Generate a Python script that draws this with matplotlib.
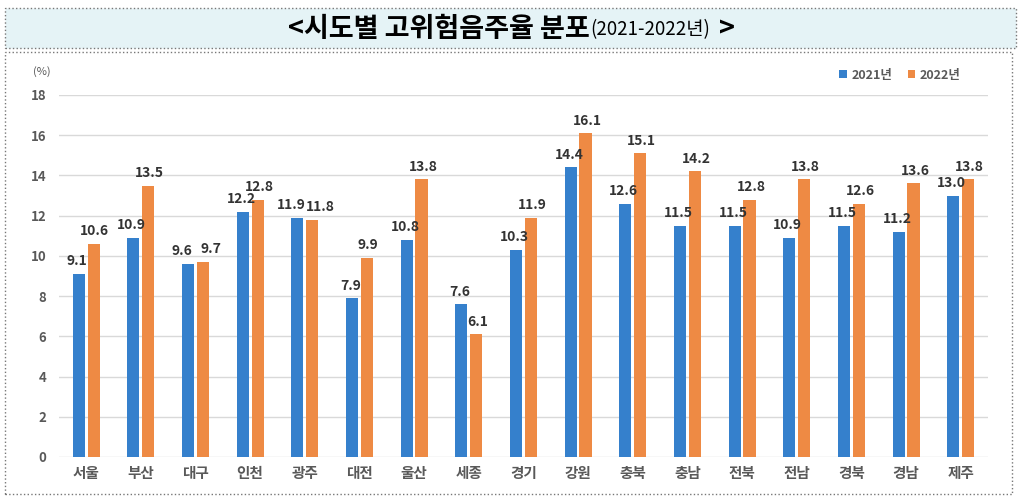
import numpy as np
import matplotlib.pyplot as plt
from matplotlib.patches import Rectangle

plt.rcParams['font.family'] = ['Noto Sans CJK KR', 'DejaVu Sans']

regions = ["서울", "부산", "대구", "인천", "광주", "대전", "울산", "세종", "경기",
           "강원", "충북", "충남", "전북", "전남", "경북", "경남", "제주"]
rate_2021 = [9.1, 10.9, 9.6, 12.2, 11.9, 7.9, 10.8, 7.6, 10.3,
             14.4, 12.6, 11.5, 11.5, 10.9, 11.5, 11.2, 13.0]
rate_2022 = [10.6, 13.5, 9.7, 12.8, 11.8, 9.9, 13.8, 6.1, 11.9,
             16.1, 15.1, 14.2, 12.8, 13.8, 12.6, 13.6, 13.8]
series_names = ["2021년", "2022년"]
y_ticks = [0, 2, 4, 6, 8, 10, 12, 14, 16, 18]

blue = "#3580cc"
orange = "#ee8a44"
gray = "#595959"

W, H = 1024, 497
fig = plt.figure(figsize=(W / 100, H / 100), dpi=100)

# title band and chart frame (pixel coords -> figure fraction)
def px_rect(x0, y0, x1, y1, **kw):
    return Rectangle((x0 / W, 1 - y1 / H), (x1 - x0) / W, (y1 - y0) / H,
                     transform=fig.transFigure, zorder=-5, **kw)

fig.patches.append(px_rect(5, 8, 1016, 48, facecolor="#e5f3f6",
                           edgecolor="#777777", linestyle=":", linewidth=1))
fig.patches.append(px_rect(5, 52, 1012, 494, facecolor="none",
                           edgecolor="#777777", linestyle=":", linewidth=1))

fig.text(590 / W, 1 - 29 / H, "<시도별 고위험음주율 분포", ha="right", va="center",
         fontsize=19.5, fontweight="bold", color="black")
fig.text(590 / W, 1 - 30 / H, "(2021-2022년)", ha="left", va="center",
         fontsize=13.5, color="black")
fig.text(719 / W, 1 - 29 / H, ">", ha="left", va="center",
         fontsize=19.5, fontweight="bold", color="black")

ax = fig.add_axes([58.7 / W, 1 - 457 / H, (988 - 58.7) / W, (457 - 95) / H])
ax.set_facecolor("none")

x = np.arange(len(regions))
w = 0.22
off = 0.137
b1 = ax.bar(x - off, rate_2021, w, color=blue, label=series_names[0], zorder=3)
b2 = ax.bar(x + off, rate_2022, w, color=orange, label=series_names[1], zorder=3)

# value labels; nudge apart when the two bars are nearly the same height
for i, (r1, r2) in enumerate(zip(b1, b2)):
    v1, v2 = rate_2021[i], rate_2022[i]
    close = abs(v1 - v2) < 0.6
    for r, v, dx in ((r1, v1, -4 if close else -1), (r2, v2, 6 if close else 1)):
        ax.annotate(f"{v:.1f}", (r.get_x() + r.get_width() / 2, v),
                    xytext=(dx, 4), textcoords="offset points",
                    ha="center", va="bottom", fontsize=10, fontweight="bold",
                    color="#333333", zorder=4)

ax.set_xlim(-0.5, len(regions) - 0.5)
ax.set_ylim(0, 18)
ax.set_yticks(y_ticks)
ax.set_xticks(x)
ax.set_xticklabels(regions, fontsize=10.5, fontweight="bold", color=gray)
ax.tick_params(axis="y", length=0, pad=9, labelsize=9.5, labelcolor=gray)
ax.tick_params(axis="x", length=0, pad=6)
for lab in ax.get_yticklabels():
    lab.set_fontweight("bold")
ax.grid(axis="y", color="#d9d9d9", linewidth=1, zorder=0)
for s in ax.spines.values():
    s.set_visible(False)

fig.text(42 / W, 1 - 72 / H, "(%)", ha="center", va="center", fontsize=8, color=gray)

leg = ax.legend(loc="center", bbox_to_anchor=(900 / W, 1 - 75 / H),
                bbox_transform=fig.transFigure, ncol=2, frameon=False,
                handlelength=0.6, handleheight=0.6, handletextpad=0.4,
                columnspacing=1.2, prop={"size": 9, "weight": "bold"})
for t in leg.get_texts():
    t.set_color(gray)

fig.savefig("out.png", dpi=100)
